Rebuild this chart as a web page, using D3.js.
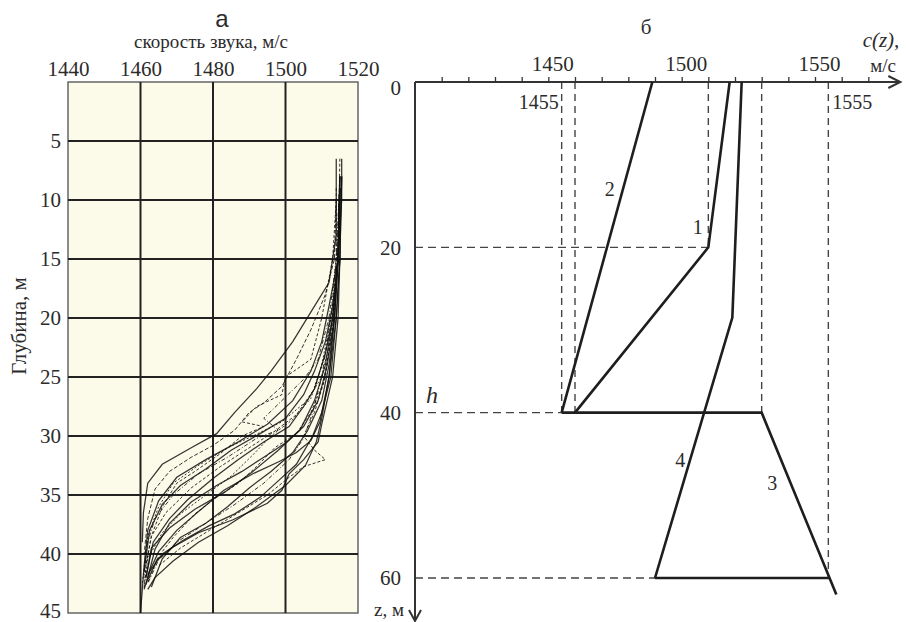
<!DOCTYPE html>
<html>
<head>
<meta charset="utf-8">
<script src="https://cdn.jsdelivr.net/npm/d3@7"></script>
<style>
  body { margin: 0; background: #fff; }
  svg text { font-family: "Liberation Serif", "DejaVu Serif", serif; fill: #2b2b2b; }
</style>
</head>
<body>
<div id="chart"></div>
<script>
// ---- panel a: measured sound speed profiles (speed m/s, depth m)
var leftSpeedTicks = [1440, 1460, 1480, 1500, 1520];
var leftDepthTicks = [5, 10, 15, 20, 25, 30, 35, 40, 45];

var prof1 = [[1514,6.5],[1514,13],[1512,17],[1508,19],[1502,22],[1496,24.5],[1492,26],[1486,28],[1481,29.8],[1474,31],[1466,32.4],[1462,34],[1460.8,36.5],[1460.5,39]];
var prof2 = [[1515.5,6.5],[1515.5,10],[1514.5,15],[1512,19],[1510,22],[1507,24.5],[1502,27],[1495,29],[1487,30.5],[1478,32],[1470,33.5],[1465,35.5],[1462,38],[1461,41],[1460,45]];
var prof3 = [[1515,6.5],[1514.5,15],[1513,20],[1511,23],[1508,26],[1503,28.2],[1497,29.6],[1490,31],[1482,32.6],[1474,34.4],[1467,36.5],[1463,38.5],[1461.5,41],[1461,43]];
var prof4 = [[1515,8],[1514.5,15],[1513,20],[1511,24],[1508,27],[1504,29.5],[1498,31.2],[1491,33],[1483,34.8],[1475,36.2],[1468,37.8],[1463,39.5],[1461.5,42]];
var prof5 = [[1515,8],[1514,15],[1512.5,20],[1510,25],[1507.5,28],[1505,30.2],[1501,32],[1494,34],[1486,35.8],[1478,37.4],[1470,39],[1465,40.5],[1462,42.5]];
var prof6 = [[1515.5,8],[1515,15],[1514,20],[1512,25],[1510,28.5],[1508.5,30.5],[1505.5,32.5],[1500,34.2],[1492,36],[1484,37.6],[1476,39],[1469,40.6],[1464,42],[1462,43]];
var prof7 = [[1515.5,8],[1515,15],[1514.5,20],[1513,25],[1510,29],[1509,30.5],[1505,32],[1501,33.2],[1499,34.6],[1495,35.7],[1485.5,37.1],[1476,38.2],[1469,39.4],[1464.5,40.5],[1462,42.2]];
var prof8 = [[1514,9],[1514,15],[1513,20],[1511,25],[1508,28],[1505,30],[1508,31.2],[1511,32],[1505,32.6],[1501,33.5],[1495,35],[1487,36.5],[1479,38],[1471,39.5],[1465,41]];
var prof9 = [[1514,10],[1513.5,15],[1511,18],[1507,21],[1503,23.5],[1499,25.8],[1494,27.2],[1490,28],[1486,29.5],[1480,30.8],[1474,31.8],[1468,33],[1464,34.5],[1462,37],[1461,40]];
var prof10 = [[1515,8],[1514.5,15],[1513,19],[1511,22],[1508,24.5],[1505,26.5],[1500,28.5],[1493,29.8],[1485,31.2],[1478,32.8],[1471,34.2],[1466,35.8],[1462.5,38],[1461,41.5]];
var prof11 = [[1515,8],[1514.5,15],[1512.5,20],[1510,24],[1507,26.8],[1502,28.6],[1496,30],[1491,31.6],[1485,33.4],[1478,35],[1471,36.6],[1466,38.2],[1462,40.4],[1461,42.8]];
var prof12 = [[1515,8],[1514.5,15],[1513,20],[1511,23],[1508,26],[1505,27.5],[1501,29.2],[1494,30.5],[1487,32],[1480,33.6],[1473,35.4],[1468,37],[1463.5,39],[1461.5,42]];
var prof13 = [[1514,10],[1513,15],[1510,20],[1507,23.5],[1500,25],[1499,26.5],[1492,27.5],[1488,28.8],[1494,29.2],[1488,30],[1482,31.5],[1475,33],[1470,34],[1466,36],[1463,38.5],[1461.5,41]];
var prof14 = [[1515,9],[1514.5,15],[1513.5,20],[1512,25],[1509.5,28.8],[1507,30.4],[1503,31.4],[1498,32.2],[1491,33.2],[1483,34.6],[1476,36.4],[1470,38],[1465,39.8],[1462,41.8]];
var prof15 = [[1515,9],[1514,15],[1512,20],[1509,23.5],[1505,25.2],[1499,27],[1494,28.5],[1498,29.5],[1492,30.2],[1484,31.8],[1476,33.2],[1469,35],[1464,37],[1461.5,39.5],[1461,42]];
var prof16 = [[1515,9],[1515,15],[1514,20],[1512.5,25],[1510,28],[1507.5,30],[1503,32.4],[1498,33.8],[1493,35.2],[1486,36.6],[1479,37.6],[1472,38.8],[1466,40],[1462.5,41.5],[1461,43]];
var prof17 = [[1515,9],[1514.5,15],[1513,21],[1510,25],[1506,27],[1499,28.8],[1491,30],[1484,31],[1476,32.5],[1469,34],[1465,36],[1462,38.5],[1460.5,42.5]];
var prof18 = [[1515,9],[1514.5,15],[1513.5,20],[1511.5,24],[1509,27],[1505,29.2],[1500,30.6],[1494,31.8],[1488,33],[1481,34.2],[1474,35.6],[1468,37.4],[1464,39.6],[1461.5,42.6]];
var prof19 = [[1515,9],[1514.5,15],[1513,21],[1510.5,25.5],[1507,28],[1503,29.8],[1497,31],[1492,32.6],[1487,34],[1481,35.2],[1475,36.6],[1469,38.6],[1465,40.2],[1462,42.4]];
var prof20 = [[1515,10],[1514.5,15],[1513.5,20],[1512,24],[1510,27],[1506,29.6],[1502,31.4],[1496,33],[1490,34.4],[1484,36],[1478,37.4],[1471,38.6],[1466,40.4],[1463,42.8]];
var profiles = [prof1, prof2, prof3, prof4, prof5, prof6, prof7, prof8, prof9, prof10,
                prof11, prof12, prof13, prof14, prof15, prof16, prof17, prof18, prof19, prof20];

// ---- panel б: model profiles
var rightSpeedTicks = [1450, 1500, 1550];
var rightMinorTicks = d3.range(1410, 1580, 10);
var rightDepthTicks = [0, 20, 40, 60];
var curve1 = [[1518,0],[1510,20],[1460,40]];
var curve2 = [[1489,0],[1455,40]];
var curve3 = [[1455,40],[1530,40],[1558,62]];
var curve3base = [[1490,60],[1555.5,60]];
var curve4 = [[1522.5,0],[1519,28.5],[1490,60]];
var curveLabels = ["1", "2", "3", "4"];
var curveLabelSpeed = [1506, 1473, 1534, 1499.5];
var curveLabelDepth = [17.6, 12.9, 48.5, 45.7];
var guideSpeeds = [1455, 1460, 1510, 1530, 1555];
var guideSpeedDepth = [40, 40, 20, 40, 60];
var guideDepths = [20, 40, 60];
var guideDepthSpeed = [1510, 1455, 1490];

var W = 906, H = 622;
var serif = "'Liberation Serif', 'DejaVu Serif', serif";
var svg = d3.select("#chart").append("svg").attr("width", W).attr("height", H);

function styleAxis(g, size) {
  g.attr("font-family", serif).attr("font-size", size);
  g.select(".domain").remove();
  g.selectAll("text").attr("fill", "#2b2b2b");
}

// ================= panel a =================
var xL = d3.scaleLinear().domain([1440, 1520]).range([68, 358]);
var yL = d3.scaleLinear().domain([0, 45]).range([82, 613]);

var gA = svg.append("g");
gA.append("rect")
  .attr("x", xL(1440)).attr("y", yL(0))
  .attr("width", xL(1520) - xL(1440)).attr("height", yL(45) - yL(0))
  .attr("fill", "#fcfae8").attr("stroke", "#666").attr("stroke-width", 1.5);

gA.selectAll("line.vg").data(leftSpeedTicks.slice(1, -1)).enter().append("line")
  .attr("x1", function(d){ return xL(d); }).attr("x2", function(d){ return xL(d); })
  .attr("y1", yL(0)).attr("y2", yL(45))
  .attr("stroke", "#222").attr("stroke-width", 2);
gA.selectAll("line.hg").data(leftDepthTicks.slice(0, -1)).enter().append("line")
  .attr("x1", xL(1440)).attr("x2", xL(1520))
  .attr("y1", function(d){ return yL(d); }).attr("y2", function(d){ return yL(d); })
  .attr("stroke", "#222").attr("stroke-width", 2);

var lineL = d3.line().x(function(d){ return xL(d[0]); }).y(function(d){ return yL(d[1]); });
var dashes = [null, null, "3,2", null, "4,2,1,2", null, null, "3,2", "4,2", null,
              "2,2", null, "3,2", null, "4,2,1,2", null, "2,2", null, "3,2", null];
gA.selectAll("path.prof").data(profiles).enter().append("path")
  .attr("d", lineL)
  .attr("fill", "none")
  .attr("stroke", "#111")
  .attr("stroke-width", function(d, i){ return dashes[i] ? 1 : 1.25; })
  .attr("stroke-opacity", 0.85)
  .attr("stroke-dasharray", function(d, i){ return dashes[i]; });

var axTopL = gA.append("g").attr("transform", "translate(0," + yL(0) + ")")
  .call(d3.axisTop(xL).tickValues(leftSpeedTicks).tickFormat(d3.format("d")).tickSize(0).tickPadding(6));
styleAxis(axTopL, 21);

var axLeftL = gA.append("g").attr("transform", "translate(" + xL(1440) + ",0)")
  .call(d3.axisLeft(yL).tickValues(leftDepthTicks).tickSize(0).tickPadding(7));
styleAxis(axLeftL, 21);
axLeftL.selectAll("text").filter(function(d){ return d === 45; }).attr("dy", "0.2em");

gA.append("text").attr("x", 222).attr("y", 27).attr("text-anchor", "middle")
  .style("font-family", "'Liberation Sans', Arial, sans-serif").style("font-size", "24px").text("а");
gA.append("text").attr("x", 211).attr("y", 48).attr("text-anchor", "middle")
  .style("font-size", "19px").text("скорость звука, м/с");
gA.append("text").attr("transform", "translate(26,326) rotate(-90)").attr("text-anchor", "middle")
  .style("font-size", "21px").text("Глубина, м");

// ================= panel б =================
var xR = d3.scaleLinear().domain([1400, 1550]).range([415, 815]);
var yR = d3.scaleLinear().domain([0, 60]).range([82, 578]);
var gB = svg.append("g");

// dashed guides
gB.selectAll("line.gv").data(guideSpeeds).enter().append("line")
  .attr("x1", function(d){ return xR(d); }).attr("x2", function(d){ return xR(d); })
  .attr("y1", yR(0)).attr("y2", function(d, i){ return yR(guideSpeedDepth[i]); })
  .attr("stroke", "#444").attr("stroke-width", 1.4).attr("stroke-dasharray", "7,5");
gB.selectAll("line.gh").data(guideDepths).enter().append("line")
  .attr("x1", xR(1400)).attr("x2", function(d, i){ return xR(guideDepthSpeed[i]); })
  .attr("y1", function(d){ return yR(d); }).attr("y2", function(d){ return yR(d); })
  .attr("stroke", "#444").attr("stroke-width", 1.4).attr("stroke-dasharray", "8,5");

// axes with arrows
var axColor = "#333";
var xEnd = xR(1582), yEnd = 621;
gB.append("line").attr("x1", xR(1400)).attr("x2", xEnd).attr("y1", yR(0)).attr("y2", yR(0))
  .attr("stroke", axColor).attr("stroke-width", 2);
gB.append("path").attr("d", "M" + (xEnd - 12) + "," + (yR(0) - 6) + "L" + xEnd + "," + yR(0) + "L" + (xEnd - 12) + "," + (yR(0) + 6))
  .attr("fill", "none").attr("stroke", axColor).attr("stroke-width", 2);
gB.append("line").attr("x1", xR(1400)).attr("x2", xR(1400)).attr("y1", yR(0)).attr("y2", yEnd)
  .attr("stroke", axColor).attr("stroke-width", 2);
gB.append("path").attr("d", "M" + (xR(1400) - 6) + "," + (yEnd - 11) + "L" + xR(1400) + "," + yEnd + "L" + (xR(1400) + 6) + "," + (yEnd - 11))
  .attr("fill", "none").attr("stroke", axColor).attr("stroke-width", 2);

var minor = gB.append("g").attr("transform", "translate(0," + yR(0) + ")")
  .call(d3.axisTop(xR).tickValues(rightMinorTicks).tickSize(5).tickFormat(""));
minor.select(".domain").remove();
minor.selectAll("line").attr("stroke", axColor).attr("stroke-width", 1.3);

var axTopR = gB.append("g").attr("transform", "translate(0," + yR(0) + ")")
  .call(d3.axisTop(xR).tickValues(rightSpeedTicks).tickFormat(d3.format("d")).tickSize(0).tickPadding(11));
styleAxis(axTopR, 21);
axTopR.selectAll("text").attr("dx", 4);

var axLeftR = gB.append("g").attr("transform", "translate(" + xR(1400) + ",0)")
  .call(d3.axisLeft(yR).tickValues(rightDepthTicks).tickSize(0).tickPadding(14));
styleAxis(axLeftR, 21);
axLeftR.selectAll("text").filter(function(d){ return d === 0; }).attr("dy", "0.6em");

// model curves
var lineR = d3.line().x(function(d){ return xR(d[0]); }).y(function(d){ return yR(d[1]); });
gB.selectAll("path.model").data([curve1, curve2, curve3, curve3base, curve4]).enter().append("path")
  .attr("d", lineR).attr("fill", "none").attr("stroke", "#1e1e1e").attr("stroke-width", 2.6)
  .attr("stroke-linejoin", "miter");

gB.selectAll("text.cl").data(curveLabels).enter().append("text")
  .attr("x", function(d, i){ return xR(curveLabelSpeed[i]); })
  .attr("y", function(d, i){ return yR(curveLabelDepth[i]); })
  .attr("text-anchor", "middle").attr("dy", "0.35em")
  .style("font-size", "20px").text(function(d){ return d; });

// extra labels
gB.append("text").attr("x", xR(1455) - 3).attr("y", 109).attr("text-anchor", "end")
  .style("font-size", "20px").text("1455");
gB.append("text").attr("x", xR(1555) + 4).attr("y", 109).attr("text-anchor", "start")
  .style("font-size", "20px").text("1555");
gB.append("text").attr("x", 646).attr("y", 34).attr("text-anchor", "middle")
  .style("font-size", "21px").text("б");
gB.append("text").attr("x", 881).attr("y", 47).attr("text-anchor", "middle")
  .style("font-size", "21px").style("font-style", "italic").text("c(z),");
gB.append("text").attr("x", 883).attr("y", 72).attr("text-anchor", "middle")
  .style("font-size", "19px").text("м/с");
gB.append("text").attr("x", 426).attr("y", yR(40) - 10)
  .style("font-size", "24px").style("font-style", "italic").text("h");
gB.append("text").attr("x", 404).attr("y", 616).attr("text-anchor", "end")
  .style("font-size", "19px").text("z, м");
</script>
</body>
</html>
